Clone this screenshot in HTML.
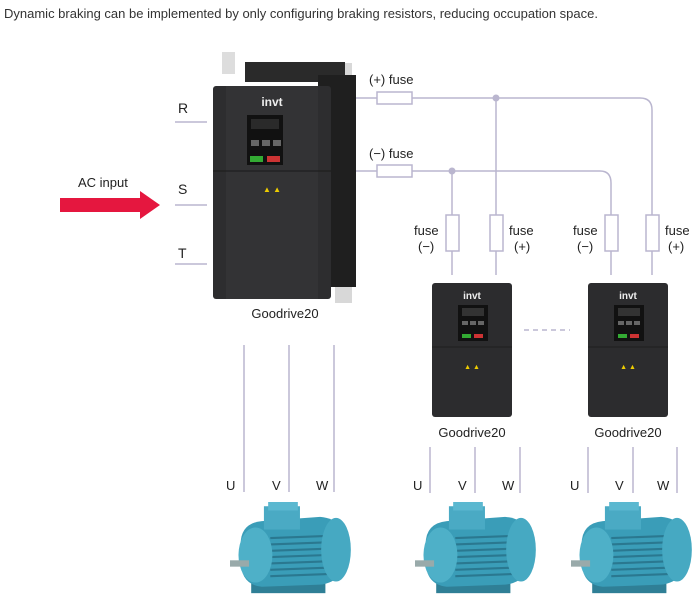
<!DOCTYPE html>
<html><head><meta charset="utf-8"><style>
body{margin:0;background:#fff;width:700px;height:605px;overflow:hidden}
svg{display:block}
text{font-family:"Liberation Sans",sans-serif;fill:#222}
</style></head><body>
<svg width="700" height="605" viewBox="0 0 700 605">
<defs>
<g id="motor">
 <rect x="20" y="72" width="70" height="14" fill="#2f7f96"/>
 <path d="M10 40 Q10 20 30 18 L85 14 Q110 16 112 45 Q110 75 85 78 L30 80 Q10 78 10 55Z" fill="#3a9db8"/>
 <g stroke="#2a7890" stroke-width="2">
  <line x1="38" y1="34" x2="92" y2="32"/><line x1="38" y1="40" x2="92" y2="38"/><line x1="38" y1="46" x2="92" y2="44"/>
  <line x1="38" y1="52" x2="92" y2="50"/><line x1="38" y1="58" x2="92" y2="56"/><line x1="38" y1="64" x2="92" y2="62"/><line x1="38" y1="70" x2="92" y2="68"/>
 </g>
 <ellipse cx="100" cy="45" rx="14" ry="30" fill="#46a9c2"/>
 <rect x="32" y="4" width="34" height="22" fill="#4aaac4"/>
 <rect x="36" y="0" width="28" height="8" fill="#5bb8d0"/>
 <ellipse cx="24" cy="50" rx="16" ry="26" fill="#4eb0c8"/>
 <rect x="0" y="55" width="18" height="6" fill="#9aa"/>
</g>
<g id="small">
 <rect x="0" y="0" width="80" height="134" rx="3" fill="#2c2c2e"/>
 <text x="40" y="16" font-size="10" font-weight="bold" text-anchor="middle" style="fill:#eee">invt</text>
 <rect x="26" y="22" width="30" height="36" fill="#111"/>
 <rect x="30" y="25" width="22" height="8" fill="#333"/>
 <rect x="30" y="51" width="9" height="4" fill="#3a3"/><rect x="42" y="51" width="9" height="4" fill="#c33"/>
 <rect x="30" y="38" width="6" height="4" fill="#666"/><rect x="38" y="38" width="6" height="4" fill="#666"/><rect x="46" y="38" width="6" height="4" fill="#666"/>
 <line x1="0" y1="64" x2="80" y2="64" stroke="#1e1e1e"/>
 <text x="40" y="86" font-size="7" text-anchor="middle" style="fill:#ec0">▲ ▲</text>
</g>
</defs>
<text x="4" y="18" font-size="13" style="fill:#333">Dynamic braking can be implemented by only configuring braking resistors, reducing occupation space.</text>

<g stroke="#bab6cf" stroke-width="1.5" fill="none">
 <line x1="175" y1="122" x2="207" y2="122"/><line x1="175" y1="205" x2="207" y2="205"/><line x1="175" y1="264" x2="207" y2="264"/>
 <path d="M355 98 H640 Q652 98 652 110 V275"/>
 <path d="M355 171 H600 Q611 171 611 183 V275"/>
 <line x1="496" y1="98" x2="496" y2="275"/>
 <line x1="452" y1="171" x2="452" y2="275"/>
 <rect x="377" y="92" width="35" height="12" fill="#fff"/>
 <rect x="377" y="165" width="35" height="12" fill="#fff"/>
 <rect x="446" y="215" width="13" height="36" fill="#fff"/>
 <rect x="490" y="215" width="13" height="36" fill="#fff"/>
 <rect x="605" y="215" width="13" height="36" fill="#fff"/>
 <rect x="646" y="215" width="13" height="36" fill="#fff"/>
 <line x1="244" y1="345" x2="244" y2="492"/><line x1="289" y1="345" x2="289" y2="492"/><line x1="334" y1="345" x2="334" y2="492"/>
 <line x1="430" y1="447" x2="430" y2="493"/><line x1="475" y1="447" x2="475" y2="493"/><line x1="520" y1="447" x2="520" y2="493"/>
 <line x1="588" y1="447" x2="588" y2="493"/><line x1="633" y1="447" x2="633" y2="493"/><line x1="677" y1="447" x2="677" y2="493"/>
 <line x1="524" y1="330" x2="570" y2="330" stroke-dasharray="5,4"/>
</g>
<circle cx="496" cy="98" r="3.5" fill="#bab6cf"/>
<circle cx="452" cy="171" r="3.5" fill="#bab6cf"/>

<text x="178" y="113" font-size="14">R</text>
<text x="178" y="194" font-size="14">S</text>
<text x="178" y="258" font-size="14">T</text>
<text x="78" y="187" font-size="13">AC input</text>
<path d="M60 198 H140 V191 L160 205 L140 219 V212 H60Z" fill="#e5173f"/>

<text x="369" y="84" font-size="13">(+) fuse</text>
<text x="369" y="158" font-size="13">(−) fuse</text>
<text x="414" y="235" font-size="13">fuse</text><text x="418" y="251" font-size="13">(−)</text>
<text x="509" y="235" font-size="13">fuse</text><text x="514" y="251" font-size="13">(+)</text>
<text x="573" y="235" font-size="13">fuse</text><text x="577" y="251" font-size="13">(−)</text>
<text x="665" y="235" font-size="13">fuse</text><text x="668" y="251" font-size="13">(+)</text>

<!-- main drive -->
<rect x="222" y="52" width="13" height="22" fill="#ddd"/>
<rect x="335" y="63" width="17" height="240" fill="#d8d8d8"/>
<rect x="245" y="62" width="100" height="20" fill="#2a2a2a"/>
<rect x="318" y="75" width="38" height="212" fill="#1f1f1f"/>
<rect x="213" y="86" width="118" height="213" rx="3" fill="#2d2d2f"/>
<rect x="226" y="86" width="92" height="213" fill="#333335"/>
<text x="272" y="106" font-size="12" font-weight="bold" text-anchor="middle" style="fill:#eee">invt</text>
<rect x="247" y="115" width="36" height="50" fill="#111"/>
<rect x="251" y="119" width="28" height="10" fill="#2a2a2a"/>
<rect x="250" y="156" width="13" height="6" fill="#3a3"/><rect x="267" y="156" width="13" height="6" fill="#c33"/>
<rect x="251" y="140" width="8" height="6" fill="#666"/><rect x="262" y="140" width="8" height="6" fill="#666"/><rect x="273" y="140" width="8" height="6" fill="#666"/>
<line x1="213" y1="171" x2="331" y2="171" stroke="#1a1a1a"/>
<text x="272" y="192" font-size="8" text-anchor="middle" style="fill:#ec0">▲ ▲</text>
<text x="285" y="318" font-size="13" text-anchor="middle">Goodrive20</text>

<use href="#small" x="432" y="283"/>
<use href="#small" x="588" y="283"/>
<text x="472" y="437" font-size="13" text-anchor="middle">Goodrive20</text>
<text x="628" y="437" font-size="13" text-anchor="middle">Goodrive20</text>

<text x="226" y="490" font-size="13">U</text><text x="272" y="490" font-size="13">V</text><text x="316" y="490" font-size="13">W</text>
<text x="413" y="490" font-size="13">U</text><text x="458" y="490" font-size="13">V</text><text x="502" y="490" font-size="13">W</text>
<text x="570" y="490" font-size="13">U</text><text x="615" y="490" font-size="13">V</text><text x="657" y="490" font-size="13">W</text>

<use href="#motor" transform="translate(230,502) scale(1.06)"/>
<use href="#motor" transform="translate(415,502) scale(1.06)"/>
<use href="#motor" transform="translate(571,502) scale(1.06)"/>
</svg>
</body></html>
